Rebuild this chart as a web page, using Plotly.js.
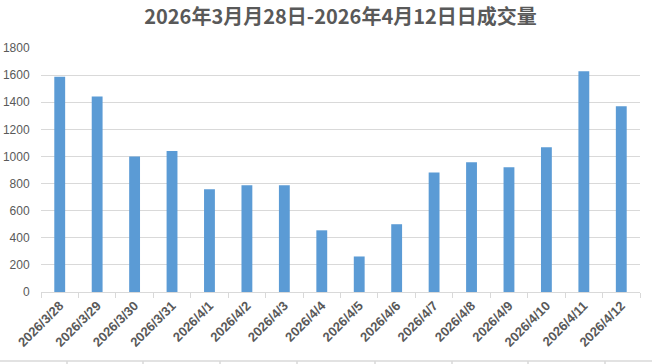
<!DOCTYPE html>
<html>
<head>
<meta charset="utf-8">
<script src="https://cdn.plot.ly/plotly-3.0.1.min.js"></script>
<style>html,body{margin:0;padding:0;background:#fff;}#chart{width:652px;height:364px;}</style>
</head>
<body>
<div id="chart"></div>
<script>
const categories = ["2026/3/28","2026/3/29","2026/3/30","2026/3/31","2026/4/1","2026/4/2","2026/4/3","2026/4/4","2026/4/5","2026/4/6","2026/4/7","2026/4/8","2026/4/9","2026/4/10","2026/4/11","2026/4/12"];
const volumes = [1588, 1442, 1000, 1040, 758, 788, 788, 455, 262, 500, 882, 957, 920, 1068, 1628, 1370];
const yTickValues = [0, 200, 400, 600, 800, 1000, 1200, 1400, 1600, 1800];
const titleText = "2026年3月月28日-2026年4月12日日成交量";

const W = 652, H = 364;
const M = {l: 41, r: 12, t: 48, b: 72};
const pw = W - M.l - M.r, ph = H - M.t - M.b;
const px2x = x => (x - M.l) / pw;
const px2y = y => (H - M.b - y) / ph;

const shapes = [{type:'line', xref:'paper', yref:'paper', x0:px2x(0), x1:px2x(W), y0:px2y(361), y1:px2y(361), line:{color:'#d9d9d9', width:1.5}}];
[67,143,220,297,375,452,528,605].forEach(x => shapes.push({type:'line', xref:'paper', yref:'paper', x0:px2x(x), x1:px2x(x), y0:px2y(361), y1:px2y(364), line:{color:'#d9d9d9', width:1.5}}));

const trace = {
  type: 'bar',
  x: categories,
  y: volumes,
  marker: {color: '#5b9bd5'},
  hoverinfo: 'x+y'
};

const layout = {
  width: W, height: H,
  margin: M,
  paper_bgcolor: '#ffffff',
  plot_bgcolor: '#ffffff',
  bargap: 0.71,
  showlegend: false,
  title: {
    text: titleText,
    x: 0.5, xref: 'paper', xanchor: 'center',
    y: 1 - 17/H, yref: 'container', yanchor: 'middle',
    font: {family: '"Noto Sans CJK SC", sans-serif', size: 20, color: '#595959', weight: 'bold'}
  },
  xaxis: {
    type: 'category',
    tickangle: -45,
    showline: true, linecolor: '#d9d9d9', linewidth: 1,
    ticks: 'outside', tickson: 'boundaries', ticklen: 5, tickcolor: '#d9d9d9',
    showgrid: false,
    tickfont: {family: '"Liberation Sans", Arial, sans-serif', size: 13, color: '#595959', weight: 'bold'}
  },
  yaxis: {
    range: [0, 1800],
    tickvals: yTickValues,
    ticktext: yTickValues.map(String),
    showgrid: true, gridcolor: '#d9d9d9', gridwidth: 1,
    zeroline: false, showline: false,
    ticks: 'outside', ticklen: 8, tickcolor: 'rgba(0,0,0,0)',
    tickfont: {family: '"Liberation Sans", Arial, sans-serif', size: 12, color: '#595959'}
  },
  shapes: shapes
};

Plotly.newPlot('chart', [trace], layout, {displayModeBar: false, staticPlot: true});
</script>
</body>
</html>
